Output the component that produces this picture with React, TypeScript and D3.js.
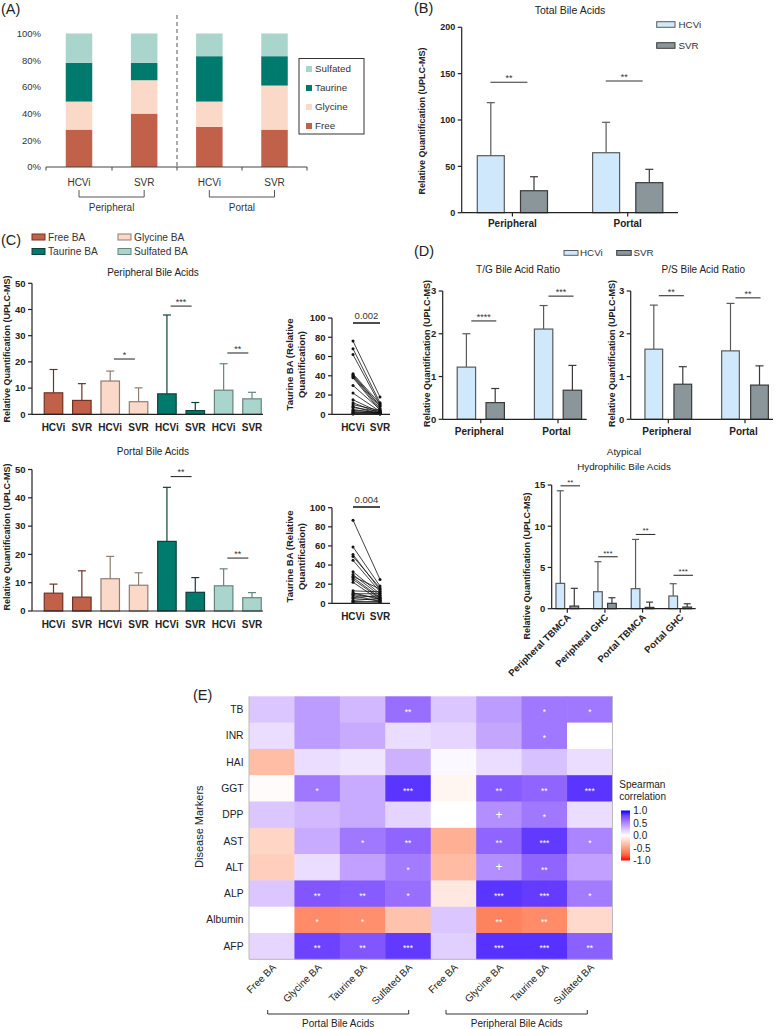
import React from "react";
import * as d3 from "d3";

const FONT = "'Liberation Sans', Arial, Helvetica, sans-serif";

// ---------- Panel A ----------
const aCats = ["Peripheral HCVi", "Peripheral SVR", "Portal HCVi", "Portal SVR"];
const aLabels = ["HCVi", "SVR", "HCVi", "SVR"];
const aFree = [28, 40, 30, 28];
const aGlycine = [21, 25, 19, 33];
const aTaurine = [29, 13, 34, 22];
const aSulfated = [22, 22, 17, 17];
const aTicks = [0, 20, 40, 60, 80, 100];
const aLegend = ["Sulfated", "Taurine", "Glycine", "Free"];

// ---------- Panel B ----------
const bGroups = ["Peripheral", "Portal"];
const bHCVi = [61.5, 64.7];
const bHCViErr = [118.7, 97.5];
const bSVR = [23.7, 32.4];
const bSVRErr = [38.8, 46.8];
const bSig = ["**", "**"];
const bSigY = [140.7, 142];
const bTicks = [0, 50, 100, 150, 200];

// ---------- Panel C ----------
const cGroups = ["Free BA", "Glycine BA", "Taurine BA", "Sulfated BA"];
const cConds = ["HCVi", "SVR"];
const cPeriMean = [8.2, 5.3, 12.7, 4.8, 7.8, 1.4, 9.2, 5.9];
const cPeriErr = [17.1, 11.7, 16.5, 10.1, 37.9, 4.5, 19.3, 8.4];
const cPortMean = [6.3, 4.9, 11.4, 9.1, 24.6, 6.6, 8.9, 4.7];
const cPortErr = [9.5, 14.2, 19.3, 13.5, 43.7, 11.8, 14.9, 6.5];
const cPeriSig = [null, "*", "***", "**"];
const cPeriSigY = [0, 21.1, 41.3, 23.4];
const cPortSig = [null, null, "**", "**"];
const cPortSigY = [0, 0, 47.5, 18.7];
const cTicks = [0, 10, 20, 30, 40, 50];

const pairTicks = [0, 20, 40, 60, 80, 100];
const periPairHCVi = [76, 68, 62, 42, 41, 40, 39, 38, 30, 22, 15, 12, 10, 8, 7, 5, 4, 3, 2, 1, 0.5, 0.2];
const periPairSVR = [18, 12, 10, 11, 9, 8, 6, 4, 5, 3, 2, 1, 4, 0.5, 3, 1, 2, 0.5, 1, 2, 0.2, 0.5];
const portPairHCVi = [87, 59, 51, 49, 45, 33, 30, 28, 27, 25, 22, 13, 11, 10, 9, 8, 6, 5, 3, 2, 1];
const portPairSVR = [25, 18, 14, 16, 12, 10, 8, 15, 6, 5, 3, 12, 4, 10, 6, 2, 8, 3, 5, 1, 2];

// ---------- Panel D ----------
const dGroups = ["Peripheral", "Portal"];
const tgHCVi = [1.22, 2.11];
const tgHCViErr = [2.0, 2.66];
const tgSVR = [0.39, 0.68];
const tgSVRErr = [0.72, 1.26];
const tgSig = ["****", "***"];
const tgSigY = [2.3, 2.88];
const psHCVi = [1.64, 1.6];
const psHCViErr = [2.67, 2.71];
const psSVR = [0.82, 0.8];
const psSVRErr = [1.23, 1.25];
const psSig = ["**", "**"];
const psSigY = [2.89, 2.84];
const dTicks = [0, 1, 2, 3];

const atGroups = ["Peripheral TBMCA", "Peripheral GHC", "Portal TBMCA", "Portal GHC"];
const atHCVi = [3.07, 2.06, 2.43, 1.54];
const atHCViErr = [14.3, 5.7, 8.4, 3.03];
const atSVR = [0.32, 0.65, 0.16, 0.2];
const atSVRErr = [2.47, 1.33, 0.8, 0.6];
const atSig = ["**", "***", "**", "***"];
const atSigY = [14.9, 6.3, 9.0, 4.05];
const atTicks = [0, 5, 10, 15];

// ---------- Panel E ----------
const eRows = ["TB", "INR", "HAI", "GGT", "DPP", "AST", "ALT", "ALP", "Albumin", "AFP"];
const eCols = ["Free BA", "Glycine BA", "Taurine BA", "Sulfated BA", "Free BA ", "Glycine BA ", "Taurine BA ", "Sulfated BA "];
const eValues = [
  [0.24, 0.42, 0.3, 0.62, 0.24, 0.42, 0.58, 0.58],
  [0.14, 0.42, 0.36, 0.14, 0.17, 0.38, 0.58, 0.0],
  [-0.35, 0.14, 0.11, 0.33, 0.03, 0.14, 0.26, 0.14],
  [-0.02, 0.58, 0.36, 0.86, -0.05, 0.7, 0.66, 0.86],
  [0.24, 0.3, 0.36, 0.18, 0.0, 0.48, 0.58, 0.14],
  [-0.22, 0.36, 0.58, 0.66, -0.42, 0.66, 0.84, 0.52],
  [-0.26, 0.14, 0.4, 0.56, -0.36, 0.48, 0.66, 0.4],
  [0.24, 0.72, 0.7, 0.62, -0.12, 0.86, 0.83, 0.56],
  [0.0, -0.6, -0.58, -0.32, 0.24, -0.64, -0.6, -0.2],
  [0.17, 0.8, 0.72, 0.84, 0.2, 0.87, 0.87, 0.68],
];
const eSig = [
  ["", "", "", "**", "", "", "*", "*"],
  ["", "", "", "", "", "", "*", ""],
  ["", "", "", "", "", "", "", ""],
  ["", "*", "", "***", "", "**", "**", "***"],
  ["", "", "", "", "", "+", "*", ""],
  ["", "", "*", "**", "", "**", "***", "*"],
  ["", "", "", "*", "", "+", "**", ""],
  ["", "**", "**", "*", "", "***", "***", "*"],
  ["", "*", "*", "", "", "**", "**", ""],
  ["", "**", "**", "***", "", "***", "***", "**"],
];
const eLegendTicks = [1, 0.5, 0, -0.5, -1];

// ---------- colours ----------
const C_FREE = "#c2614a";
const C_GLY = "#fbd9c8";
const C_TAU = "#017a6e";
const C_SUL = "#aad5cc";
const S_FREE = "#6e3325";
const S_GLY = "#8f7d73";
const S_TAU = "#0d403b";
const S_SUL = "#66857f";
const HCV_FILL = "#cfe8fb";
const HCV_STROKE = "#5a5a5a";
const SVR_FILL = "#8b969b";
const SVR_STROKE = "#3a3a3a";
const AXIS = "#222";

const groupFill = [C_FREE, C_GLY, C_TAU, C_SUL];
const groupStroke = [S_FREE, S_GLY, S_TAU, S_SUL];

function YAxis({ x, y, ticks, fs = 9.5, bold = true, fmt = (d: number) => String(d), tick = 4 }: any) {
  const [r0, r1] = y.range();
  return (
    <g>
      <line x1={x} x2={x} y1={r0} y2={r1} stroke={AXIS} strokeWidth={1.2} />
      {ticks.map((t: number) => (
        <g key={t}>
          <line x1={x - tick} x2={x} y1={y(t)} y2={y(t)} stroke={AXIS} strokeWidth={1.2} />
          <text x={x - tick - 2.5} y={y(t)} dy="0.35em" textAnchor="end" fontSize={fs} fontWeight={bold ? "bold" : "normal"} fill={AXIS}>
            {fmt(t)}
          </text>
        </g>
      ))}
    </g>
  );
}

function Bar({ cx, w, y, v, e, fill, stroke, cap = 4 }: any) {
  const y0 = y(0);
  const yt = y(v);
  const ye = y(e);
  return (
    <g>
      <line x1={cx} x2={cx} y1={yt} y2={ye} stroke={stroke} strokeWidth={1.2} />
      <line x1={cx - cap} x2={cx + cap} y1={ye} y2={ye} stroke={stroke} strokeWidth={1.2} />
      <rect x={cx - w / 2} y={yt} width={w} height={y0 - yt} fill={fill} stroke={stroke} strokeWidth={1.2} />
    </g>
  );
}

function Sig({ x1, x2, y, label, fs = 9 }: any) {
  return (
    <g>
      <line x1={x1} x2={x2} y1={y} y2={y} stroke="#333" strokeWidth={1.1} />
      <text x={(x1 + x2) / 2} y={y - 1.2} textAnchor="middle" fontSize={fs} fill="#333">
        {label}
      </text>
    </g>
  );
}

function VLabel({ x, y, text, fs = 9.5, bold = true }: any) {
  return (
    <text transform={`translate(${x},${y}) rotate(-90)`} textAnchor="middle" dy="0.35em" fontSize={fs} fontWeight={bold ? "bold" : "normal"} fill={AXIS}>
      {text}
    </text>
  );
}

function PanelA() {
  const x = d3.scalePoint<string>().domain(aCats).range([79, 274.5]);
  const y = d3.scaleLinear().domain([0, 100]).range([167, 33.5]);
  const bw = 26.5;
  const series = [aFree, aGlycine, aTaurine, aSulfated];
  const legendColors: Record<string, string> = { Sulfated: C_SUL, Taurine: C_TAU, Glycine: C_GLY, Free: C_FREE };
  const ly = d3.scalePoint<string>().domain(aLegend).range([69, 126]);
  return (
    <g>
      <text x={1} y={14} fontSize={14.5} fill="#222">(A)</text>
      {aTicks.map((t) => (
        <text key={t} x={41} y={y(t)} dy="0.35em" textAnchor="end" fontSize={9.5} fill="#333">{t}%</text>
      ))}
      {aCats.map((c, i) => {
        let base = 0;
        return (
          <g key={c}>
            {series.map((s, k) => {
              const y0 = y(base);
              base += s[i];
              const y1 = y(base);
              return <rect key={k} x={(x(c) as number) - bw / 2} y={y1} width={bw} height={y0 - y1} fill={groupFill[k]} />;
            })}
          </g>
        );
      })}
      <line x1={46} x2={307} y1={167} y2={167} stroke="#444" strokeWidth={1} />
      {[46, 112, 177, 242, 307].map((t) => (
        <line key={t} x1={t} x2={t} y1={167} y2={170.5} stroke="#444" strokeWidth={1} />
      ))}
      <line x1={177} x2={177} y1={15} y2={167} stroke="#555" strokeWidth={1} strokeDasharray="4,3" />
      {aCats.map((c, i) => (
        <text key={c} x={x(c)} y={185.5} textAnchor="middle" fontSize={10} fill="#333">{aLabels[i]}</text>
      ))}
      {[[aCats[0], aCats[1], "Peripheral"], [aCats[2], aCats[3], "Portal"]].map(([a, b, lab]) => {
        const x1 = x(a) as number;
        const x2 = x(b) as number;
        return (
          <g key={lab}>
            <path d={`M${x1},190V197H${x2}V190`} fill="none" stroke="#555" strokeWidth={1} />
            <text x={(x1 + x2) / 2} y={210.5} textAnchor="middle" fontSize={10} fill="#333">{lab}</text>
          </g>
        );
      })}
      <rect x={299} y={58.5} width={65} height={75.5} fill="#fff" stroke="#333" strokeWidth={1} />
      {aLegend.map((l) => (
        <g key={l}>
          <rect x={306} y={(ly(l) as number) - 3} width={6} height={6} fill={legendColors[l]} />
          <text x={315} y={ly(l)} dy="0.35em" fontSize={9.8} fill="#333">{l}</text>
        </g>
      ))}
    </g>
  );
}

function PanelB() {
  const xg = d3.scalePoint<string>().domain(bGroups).range([512.4, 627.7]);
  const y = d3.scaleLinear().domain([0, 200]).range([212.7, 27.3]);
  const off = 21.6;
  const bw = 27;
  return (
    <g>
      <text x={414} y={13} fontSize={14.5} fill="#222">(B)</text>
      <text x={570} y={14} textAnchor="middle" fontSize={10.5} fill="#222">Total Bile Acids</text>
      <VLabel x={422} y={121} text="Relative Quantification (UPLC-MS)" fs={9} />
      {bGroups.map((g, i) => {
        const c = xg(g) as number;
        return (
          <g key={g}>
            <Bar cx={c - off} w={bw} y={y} v={bHCVi[i]} e={bHCViErr[i]} fill={HCV_FILL} stroke={HCV_STROKE} />
            <Bar cx={c + off} w={bw} y={y} v={bSVR[i]} e={bSVRErr[i]} fill={SVR_FILL} stroke={SVR_STROKE} />
            <Sig x1={c - 22} x2={c + 15} y={y(bSigY[i])} label={bSig[i]} />
            <line x1={c} x2={c} y1={212.7} y2={216.5} stroke={AXIS} strokeWidth={1.2} />
            <text x={c} y={227} textAnchor="middle" fontSize={10} fontWeight="bold" fill={AXIS}>{g}</text>
          </g>
        );
      })}
      <YAxis x={461.7} y={y} ticks={bTicks} fs={9} />
      <line x1={461.7} x2={678} y1={212.7} y2={212.7} stroke={AXIS} strokeWidth={1.2} />
      <rect x={656.7} y={21.7} width={18.3} height={5.6} fill={HCV_FILL} stroke={HCV_STROKE} strokeWidth={1} />
      <text x={678.5} y={24.5} dy="0.35em" fontSize={9.8} fill="#333">HCVi</text>
      <rect x={656.7} y={42.7} width={18.3} height={5.6} fill={SVR_FILL} stroke={SVR_STROKE} strokeWidth={1} />
      <text x={678.5} y={45.5} dy="0.35em" fontSize={9.8} fill="#333">SVR</text>
    </g>
  );
}

function CBarChart({ y, mean, err, sig, sigY, title, titleY, labelY, xLabY }: any) {
  const keys = cGroups.flatMap((g) => cConds.map((c) => `${g}|${c}`));
  const x = d3.scalePoint<string>().domain(keys).range([53.5, 252]);
  const bw = 18.5;
  return (
    <g>
      <text x={153} y={titleY} textAnchor="middle" fontSize={10} fill="#222">{title}</text>
      <VLabel x={6.5} y={labelY} text="Relative Quantification (UPLC-MS)" fs={9} />
      {keys.map((k, i) => {
        const gi = Math.floor(i / 2);
        return (
          <g key={k}>
            <Bar cx={x(k)} w={bw} y={y} v={mean[i]} e={err[i]} fill={groupFill[gi]} stroke={groupStroke[gi]} cap={4} />
            <text x={x(k)} y={xLabY} textAnchor="middle" fontSize={10} fontWeight="bold" fill={AXIS}>{k.split("|")[1]}</text>
          </g>
        );
      })}
      {cGroups.map((g, gi) => {
        if (!sig[gi]) return null;
        const m = ((x(`${g}|HCVi`) as number) + (x(`${g}|SVR`) as number)) / 2;
        return <Sig key={g} x1={m - 10.5} x2={m + 10.5} y={y(sigY[gi])} label={sig[gi]} />;
      })}
      <YAxis x={32} y={y} ticks={cTicks} fs={9.5} />
      <line x1={32} x2={263} y1={y(0)} y2={y(0)} stroke={AXIS} strokeWidth={1.2} />
    </g>
  );
}

function PairPlot({ y, hcv, svr, pLabel, pY, labelY, xLabY }: any) {
  const x = d3.scalePoint<string>().domain(cConds).range([353, 380]);
  const xa = x("HCVi") as number;
  const xb = x("SVR") as number;
  return (
    <g>
      <text transform={`translate(290,${labelY}) rotate(-90)`} textAnchor="middle" dy="0.35em" fontSize={9.5} fontWeight="bold" fill={AXIS}>Taurine BA (Relative</text>
      <text transform={`translate(302,${labelY}) rotate(-90)`} textAnchor="middle" dy="0.35em" fontSize={9.5} fontWeight="bold" fill={AXIS}>Quantification)</text>
      {hcv.map((v: number, i: number) => (
        <g key={i}>
          <line x1={xa} x2={xb} y1={y(v)} y2={y(svr[i])} stroke="#111" strokeWidth={0.8} />
          <circle cx={xa} cy={y(v)} r={1.5} fill="#111" />
          <circle cx={xb} cy={y(svr[i])} r={1.5} fill="#111" />
        </g>
      ))}
      <YAxis x={332} y={y} ticks={pairTicks} fs={9.5} />
      <line x1={332} x2={390} y1={y(0)} y2={y(0)} stroke={AXIS} strokeWidth={1.2} />
      <line x1={xa} x2={xb} y1={pY} y2={pY} stroke="#111" strokeWidth={1.5} />
      <text x={(xa + xb) / 2} y={pY - 4} textAnchor="middle" fontSize={9.5} fill="#333">{pLabel}</text>
      {cConds.map((c) => (
        <text key={c} x={x(c)} y={xLabY} textAnchor="middle" fontSize={10} fontWeight="bold" fill={AXIS}>{c}</text>
      ))}
    </g>
  );
}

function PanelC() {
  const yTop = d3.scaleLinear().domain([0, 50]).range([414.3, 283.3]);
  const yBot = d3.scaleLinear().domain([0, 50]).range([611, 469.5]);
  const yP1 = d3.scaleLinear().domain([0, 100]).range([414.3, 318]);
  const yP2 = d3.scaleLinear().domain([0, 100]).range([603.3, 507.7]);
  const legend = [
    { l: "Free BA", x: 32, y: 237, k: 0 },
    { l: "Glycine BA", x: 118, y: 237, k: 1 },
    { l: "Taurine BA", x: 32, y: 251.5, k: 2 },
    { l: "Sulfated BA", x: 118, y: 251.5, k: 3 },
  ];
  return (
    <g>
      <text x={1} y={245} fontSize={14.5} fill="#222">(C)</text>
      {legend.map((d) => (
        <g key={d.l}>
          <rect x={d.x} y={d.y - 3} width={13} height={6} fill={groupFill[d.k]} stroke={groupStroke[d.k]} strokeWidth={1} />
          <text x={d.x + 16} y={d.y} dy="0.35em" fontSize={10.2} fill="#333">{d.l}</text>
        </g>
      ))}
      <CBarChart y={yTop} mean={cPeriMean} err={cPeriErr} sig={cPeriSig} sigY={cPeriSigY} title="Peripheral Bile Acids" titleY={276} labelY={349} xLabY={431} />
      <CBarChart y={yBot} mean={cPortMean} err={cPortErr} sig={cPortSig} sigY={cPortSigY} title="Portal Bile Acids" titleY={455} labelY={537} xLabY={627.5} />
      <PairPlot y={yP1} hcv={periPairHCVi} svr={periPairSVR} pLabel="0.002" pY={323} labelY={364.5} xLabY={431} />
      <PairPlot y={yP2} hcv={portPairHCVi} svr={portPairSVR} pLabel="0.004" pY={507} labelY={556.5} xLabY={619.5} />
    </g>
  );
}

function GroupBars({ centers, off, bw, y, hcv, hcvE, svr, svrE, sig, sigY, sigW = 25, sigFs = 9, cap = 4 }: any) {
  return (
    <g>
      {centers.map((c: number, i: number) => (
        <g key={i}>
          <Bar cx={c - off} w={bw} y={y} v={hcv[i]} e={hcvE[i]} fill={HCV_FILL} stroke={HCV_STROKE} cap={cap} />
          <Bar cx={c + off} w={bw} y={y} v={svr[i]} e={svrE[i]} fill={SVR_FILL} stroke={SVR_STROKE} cap={cap} />
          <Sig x1={c + 3 - sigW / 2} x2={c + 3 + sigW / 2} y={y(sigY[i])} label={sig[i]} fs={sigFs} />
          <line x1={c} x2={c} y1={y(0)} y2={y(0) + 4} stroke={AXIS} strokeWidth={1.2} />
        </g>
      ))}
    </g>
  );
}

function PanelD() {
  const y = d3.scaleLinear().domain([0, 3]).range([419.3, 291]);
  const xL = d3.scalePoint<string>().domain(dGroups).range([480.8, 558]);
  const xR = d3.scalePoint<string>().domain(dGroups).range([668.3, 745]);
  const yA = d3.scaleLinear().domain([0, 15]).range([608.7, 485]);
  const xA = d3.scalePoint<string>().domain(atGroups).range([567.3, 680.2]);
  return (
    <g>
      <text x={414} y={256} fontSize={14.5} fill="#222">(D)</text>
      <rect x={564} y={250.5} width={14} height={4.8} fill={HCV_FILL} stroke={HCV_STROKE} strokeWidth={1} />
      <text x={580} y={253} dy="0.35em" fontSize={9.8} fill="#333">HCVi</text>
      <rect x={616.7} y={250.5} width={14.5} height={4.8} fill={SVR_FILL} stroke={SVR_STROKE} strokeWidth={1} />
      <text x={633.5} y={253} dy="0.35em" fontSize={9.8} fill="#333">SVR</text>

      <text x={518} y={273} textAnchor="middle" fontSize={10} fill="#222">T/G Bile Acid Ratio</text>
      <VLabel x={427} y={353.5} text="Relative Quantification (UPLC-MS)" fs={9} />
      <GroupBars centers={dGroups.map((g) => xL(g))} off={14.4} bw={18.4} y={y} hcv={tgHCVi} hcvE={tgHCViErr} svr={tgSVR} svrE={tgSVRErr} sig={tgSig} sigY={tgSigY} />
      <YAxis x={442.7} y={y} ticks={dTicks} fs={9.5} />
      <line x1={442.7} x2={586.7} y1={419.3} y2={419.3} stroke={AXIS} strokeWidth={1.2} />
      {dGroups.map((g) => (
        <text key={g} x={(xL(g) as number) - 1.5} y={435} textAnchor="middle" fontSize={10} fontWeight="bold" fill={AXIS}>{g}</text>
      ))}

      <text x={703.3} y={273} textAnchor="middle" fontSize={10} fill="#222">P/S Bile Acid Ratio</text>
      <VLabel x={611.7} y={353.5} text="Relative Quantification (UPLC-MS)" fs={9} />
      <GroupBars centers={dGroups.map((g) => xR(g))} off={14.5} bw={17.7} y={y} hcv={psHCVi} hcvE={psHCViErr} svr={psSVR} svrE={psSVRErr} sig={psSig} sigY={psSigY} />
      <YAxis x={630.7} y={y} ticks={dTicks} fs={9.5} />
      <line x1={630.7} x2={773} y1={419.3} y2={419.3} stroke={AXIS} strokeWidth={1.2} />
      {dGroups.map((g) => (
        <text key={g} x={(xR(g) as number) - 1.5} y={435} textAnchor="middle" fontSize={10} fontWeight="bold" fill={AXIS}>{g}</text>
      ))}

      <text x={624} y={455} textAnchor="middle" fontSize={9.8} fill="#222">Atypical</text>
      <text x={624} y={469.5} textAnchor="middle" fontSize={9.8} fill="#222">Hydrophilic Bile Acids</text>
      <VLabel x={527} y={566} text="Relative Quantification (UPLC-MS)" fs={9} />
      <GroupBars centers={atGroups.map((g) => xA(g))} off={7} bw={8.7} y={yA} hcv={atHCVi} hcvE={atHCViErr} svr={atSVR} svrE={atSVRErr} sig={atSig} sigY={atSigY} sigW={19.5} sigFs={8} cap={3.5} />
      <YAxis x={551.7} y={yA} ticks={atTicks} fs={9.5} />
      <line x1={551.7} x2={695.7} y1={608.7} y2={608.7} stroke={AXIS} strokeWidth={1.2} />
      {atGroups.map((g) => (
        <text key={g} transform={`translate(${(xA(g) as number) + 4},${618}) rotate(-45)`} textAnchor="end" fontSize={9.5} fontWeight="bold" fill={AXIS}>{g}</text>
      ))}
    </g>
  );
}

function PanelE() {
  const x = d3.scaleBand<string>().domain(eCols).range([249, 612.5]);
  const y = d3.scaleBand<string>().domain(eRows).range([696.3, 959.3]);
  const color = d3.scaleLinear<string>().domain([-1, 0, 1]).range(["#ff0000", "#ffffff", "#0000ff"]).interpolate(d3.interpolateLab);
  const ly = d3.scaleLinear().domain([1, -1]).range([810.5, 860.5]);
  const stops = d3.range(0, 1.0001, 0.1);
  const bw = x.bandwidth();
  const bh = y.bandwidth();
  return (
    <g>
      <text x={193} y={700} fontSize={14.5} fill="#222">(E)</text>
      <defs>
        <linearGradient id="spear" x1="0" y1="0" x2="0" y2="1">
          {stops.map((s) => (
            <stop key={s} offset={`${s * 100}%`} stopColor={color(1 - 2 * s)} />
          ))}
        </linearGradient>
      </defs>
      {eRows.map((r, i) => (
        <g key={r}>
          {eCols.map((c, j) => (
            <g key={c}>
              <rect x={x(c)} y={y(r)} width={bw + 0.5} height={bh + 0.5} fill={color(eValues[i][j])} />
              {eSig[i][j] && (
                <text x={(x(c) as number) + bw / 2} y={(y(r) as number) + bh / 2} dy={eSig[i][j] === "+" ? "0.35em" : "0.62em"} textAnchor="middle" fontSize={eSig[i][j] === "+" ? 12 : 8.5} fill="#fff">
                  {eSig[i][j]}
                </text>
              )}
            </g>
          ))}
          <text x={243.5} y={(y(r) as number) + bh / 2} dy="0.35em" textAnchor="end" fontSize={10.3} fill="#222">{r}</text>
        </g>
      ))}
      <path d={`M249,696.3V959.3H612.5V696.3`} fill="none" stroke="#bbb" strokeWidth={1} />
      <text transform={`translate(199.5,826.7) rotate(-90)`} textAnchor="middle" dy="0.35em" fontSize={11} fill="#222">Disease Markers</text>
      {eCols.map((c) => (
        <text key={c} transform={`translate(${(x(c) as number) + bw / 2 + 5},${968}) rotate(-45)`} textAnchor="end" fontSize={10} fill="#222">{c.trim()}</text>
      ))}
      {[["Portal Bile Acids", 267.7, 408.7], ["Peripheral Bile Acids", 446, 587.3]].map(([lab, a, b]: any) => (
        <g key={lab}>
          <path d={`M${a},1010V1014H${b}V1010`} fill="none" stroke="#333" strokeWidth={1} />
          <text x={(a + b) / 2} y={1026.5} textAnchor="middle" fontSize={10} fill="#222">{lab}</text>
        </g>
      ))}
      <text x={619.3} y={787.5} fontSize={10} fill="#222">Spearman</text>
      <text x={619.3} y={799.5} fontSize={10} fill="#222">correlation</text>
      <rect x={621} y={810.5} width={9} height={50} fill="url(#spear)" />
      {eLegendTicks.map((t) => (
        <text key={t} x={633.3} y={ly(t)} dy="0.35em" fontSize={10} fill="#222">{t.toFixed(1)}</text>
      ))}
    </g>
  );
}

export default function App() {
  return (
    <svg width={779} height={1029} viewBox="0 0 779 1029" style={{ position: "absolute", left: 0, top: 0, background: "#fff" }} fontFamily={FONT}>
      <rect x={0} y={0} width={779} height={1029} fill="#fff" />
      <PanelA />
      <PanelB />
      <PanelC />
      <PanelD />
      <PanelE />
    </svg>
  );
}
